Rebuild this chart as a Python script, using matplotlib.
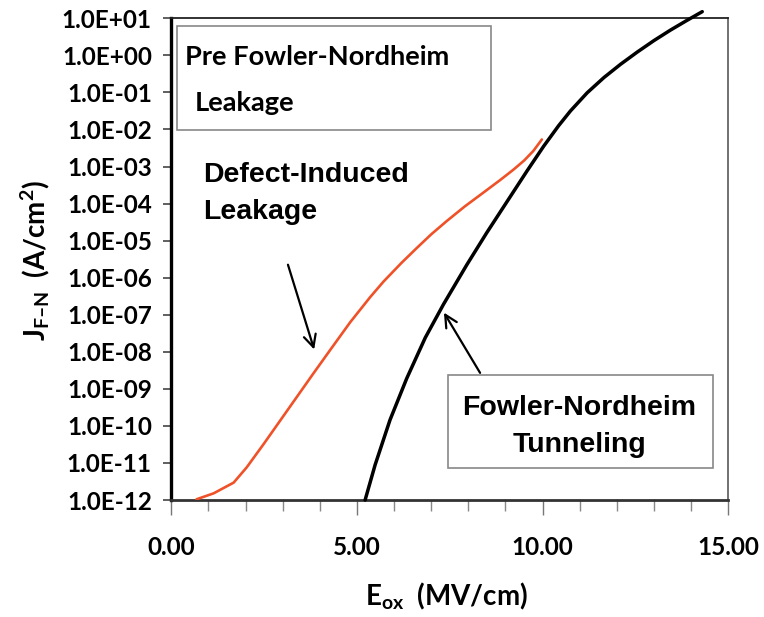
import matplotlib.pyplot as plt
import matplotlib.ticker as mticker
import numpy as np

plt.rcParams['mathtext.fontset'] = 'custom'
plt.rcParams['mathtext.rm'] = 'Lato:bold'
plt.rcParams['mathtext.default'] = 'rm'

# defect-induced leakage (red): E (MV/cm), log10 J
e_defect = [0.68, 1.14, 1.68, 2.03, 2.48, 2.93, 3.38, 3.83, 4.28, 4.82, 5.36, 5.72,
            6.20, 6.61, 7.00, 7.42, 7.90, 8.41, 8.85, 9.22, 9.50, 9.75, 9.98]
logj_defect = [-11.98, -11.82, -11.53, -11.12, -10.50, -9.86, -9.22, -8.58, -7.95, -7.20,
               -6.52, -6.10, -5.60, -5.20, -4.83, -4.47, -4.08, -3.70, -3.37, -3.08,
               -2.84, -2.58, -2.27]

# Fowler-Nordheim tunneling (black)
e_fn = [5.22, 5.49, 5.89, 6.34, 6.84, 7.33, 7.96, 8.50, 9.04, 9.58, 10.03, 10.43,
        10.75, 11.20, 11.65, 12.10, 12.55, 13.00, 13.44, 13.88, 14.30]
logj_fn = [-12.0, -11.05, -9.84, -8.72, -7.62, -6.72, -5.65, -4.78, -3.95, -3.12, -2.45,
           -1.90, -1.50, -1.01, -0.60, -0.24, 0.09, 0.40, 0.68, 0.94, 1.18]

yticks = [10.0 ** k for k in range(-12, 2)]
xticks = [0, 5, 10, 15]

fig = plt.figure(figsize=(7.64, 6.17), dpi=100)
ax = fig.add_axes([0.2242, 0.1896, 0.729, 0.7807])

ax.plot(e_defect, np.power(10.0, logj_defect), color='#ef5228', lw=1.9, zorder=5,
        solid_capstyle='round', solid_joinstyle='round')
ax.plot(e_fn, np.power(10.0, logj_fn), color='black', lw=2.5, zorder=4, clip_on=False,
        solid_capstyle='round', solid_joinstyle='round')

ax.set_yscale('log')
ax.set_ylim(1e-12, 1e1)
ax.set_xlim(0, 15)
ax.set_yticks(yticks)
ax.yaxis.set_major_formatter(mticker.FuncFormatter(lambda v, p: f'{v:.1E}'))
ax.yaxis.set_minor_locator(mticker.NullLocator())
ax.set_xticks(xticks)
ax.set_xticklabels([f'{v:.2f}' for v in xticks])
ax.xaxis.set_minor_locator(mticker.MultipleLocator(1))

for lab in ax.get_xticklabels() + ax.get_yticklabels():
    lab.set_family('Lato')
    lab.set_weight('bold')
    lab.set_fontsize(17.5)
ax.tick_params(axis='y', which='both', direction='out', length=6, width=1.2, pad=8, color='#444444')
ax.tick_params(axis='x', which='major', direction='out', length=11, width=1.0, pad=15, color='#777777')
ax.tick_params(axis='x', which='minor', direction='out', length=8, width=1.0, color='#888888')

ax.spines['left'].set_linewidth(2.4)
ax.spines['left'].set_color('black')
ax.spines['bottom'].set_linewidth(2.0)
ax.spines['bottom'].set_color('#333333')
ax.spines['top'].set_linewidth(1.3)
ax.spines['top'].set_color('#222222')
ax.spines['right'].set_linewidth(1.3)
ax.spines['right'].set_color('#666666')

fig.text(0.046, 0.578, 'J$_{\\mathrm{F\u2013N}}$  (A/cm$^{\\mathrm{2}}$)', rotation=90,
         ha='center', va='center', family='Lato', weight='bold', fontsize=20)
fig.text(0.585, 0.033, 'E$_{\\mathrm{ox}}$  (MV/cm)', ha='center', va='center',
         family='Lato', weight='bold', fontsize=20)

# boxes
ax.add_patch(plt.Rectangle((0.0105, 0.768), 0.5635, 0.217, transform=ax.transAxes,
                           fill=False, edgecolor='#888888', lw=1.2, zorder=2))
ax.add_patch(plt.Rectangle((0.497, 0.066), 0.475, 0.193, transform=ax.transAxes,
                           facecolor='white', edgecolor='#888888', lw=1.2, zorder=6))

ax.text(0.024, 0.919, 'Pre Fowler-Nordheim', transform=ax.transAxes, ha='left', va='center',
        family='Lato', weight='bold', fontsize=19.6)
ax.text(0.042, 0.824, 'Leakage', transform=ax.transAxes, ha='left', va='center',
        family='Lato', weight='bold', fontsize=19.6)

ax.text(0.057, 0.674, 'Defect-Induced', transform=ax.transAxes, ha='left', va='center',
        family='Liberation Sans', weight='bold', fontsize=20.5)
ax.text(0.057, 0.598, 'Leakage', transform=ax.transAxes, ha='left', va='center',
        family='Liberation Sans', weight='bold', fontsize=20.5)

ax.text(0.733, 0.191, 'Fowler-Nordheim', transform=ax.transAxes, ha='center', va='center',
        family='Liberation Sans', weight='bold', fontsize=20.5, zorder=7)
ax.text(0.733, 0.114, 'Tunneling', transform=ax.transAxes, ha='center', va='center',
        family='Liberation Sans', weight='bold', fontsize=20.5, zorder=7)

arrow = dict(arrowstyle='->', color='black', lw=1.6, mutation_scale=22)
ax.annotate('', xy=(0.258, 0.307), xytext=(0.208, 0.494), xycoords='axes fraction',
            textcoords='axes fraction', arrowprops=arrow)
ax.annotate('', xy=(0.487, 0.394), xytext=(0.557, 0.259), xycoords='axes fraction',
            textcoords='axes fraction', arrowprops=arrow)

fig.savefig('out.png', dpi=100)
